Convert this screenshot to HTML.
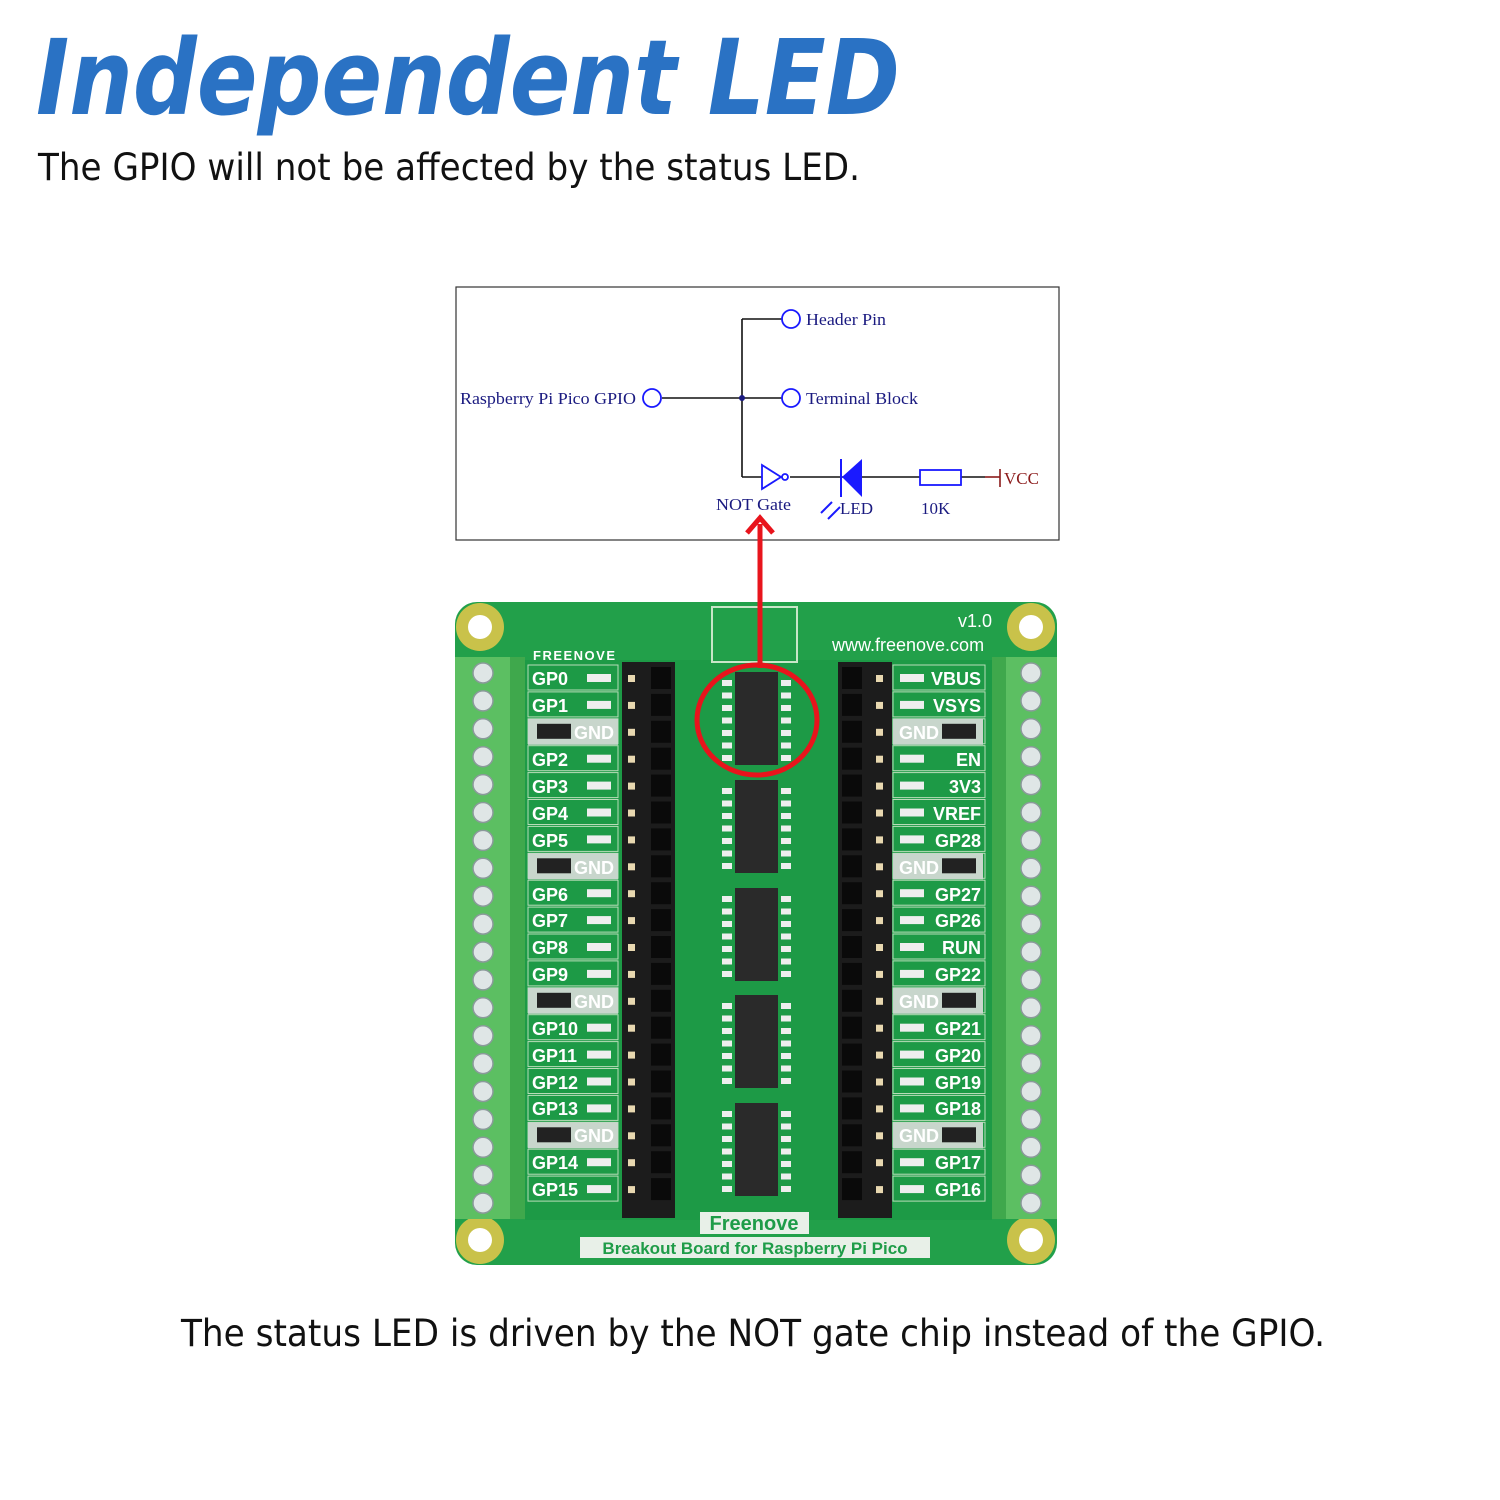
<!DOCTYPE html>
<html><head><meta charset="utf-8"><style>
html,body{margin:0;padding:0;background:#fff;width:1500px;height:1500px;overflow:hidden}
svg{display:block}
</style></head><body>
<svg id="s" width="1500" height="1500" viewBox="0 0 1500 1500" xmlns="http://www.w3.org/2000/svg">
<text x="36" y="114" font-family="DejaVu Sans, Liberation Sans, sans-serif" font-size="104" font-style="italic" font-weight="bold" fill="#2a72c4" textLength="864" lengthAdjust="spacingAndGlyphs">Independent LED</text>
<text x="38" y="180" font-family="DejaVu Sans, Liberation Sans, sans-serif" font-size="37" fill="#111" textLength="822" lengthAdjust="spacingAndGlyphs">The GPIO will not be affected by the status LED.</text>
<text x="181" y="1346" font-family="DejaVu Sans, Liberation Sans, sans-serif" font-size="37" fill="#111" textLength="1144" lengthAdjust="spacingAndGlyphs">The status LED is driven by the NOT gate chip instead of the GPIO.</text>

<!-- schematic -->
<rect x="456" y="287" width="603" height="253" fill="#fff" stroke="#333" stroke-width="1.2"/>
<g font-family="Liberation Serif, serif" font-size="17" fill="#1a1a80">
<text x="460" y="404" textLength="176" lengthAdjust="spacingAndGlyphs">Raspberry Pi Pico GPIO</text>
<text x="806" y="325" textLength="80" lengthAdjust="spacingAndGlyphs">Header Pin</text>
<text x="806" y="404" textLength="112" lengthAdjust="spacingAndGlyphs">Terminal Block</text>
<text x="716" y="510" textLength="75" lengthAdjust="spacingAndGlyphs">NOT Gate</text>
<text x="840" y="514">LED</text>
<text x="921" y="514">10K</text>
</g>
<text x="1004" y="484" font-family="Liberation Serif, serif" font-size="17" fill="#8b1a1a">VCC</text>
<g stroke="#111" stroke-width="1.6" fill="none">
<line x1="662" y1="398" x2="782" y2="398"/>
<line x1="742" y1="319" x2="782" y2="319"/>
<line x1="742" y1="319" x2="742" y2="477"/>
<line x1="742" y1="477" x2="762" y2="477"/>
<line x1="790" y1="477" x2="920" y2="477"/>
<line x1="961" y1="477" x2="985" y2="477"/>
</g>
<line x1="985" y1="477" x2="1000" y2="477" stroke="#8b1a1a" stroke-width="1.6"/>
<line x1="1000" y1="469" x2="1000" y2="487" stroke="#8b1a1a" stroke-width="1.6"/>
<circle cx="742" cy="398" r="3" fill="#1a1a80"/>
<g stroke="#1a1aff" stroke-width="1.8" fill="#fff">
<circle cx="652" cy="398" r="9"/>
<circle cx="791" cy="319" r="9"/>
<circle cx="791" cy="398" r="9"/>
<path d="M762 465 L781 477 L762 489 Z"/>
<circle cx="785" cy="477" r="3"/>
<rect x="920" y="470" width="41" height="15"/>
</g>
<path d="M862 459 L862 497 L842 477 Z" fill="#1a1aff"/>
<line x1="841" y1="459" x2="841" y2="497" stroke="#1a1aff" stroke-width="2"/>
<g stroke="#1a1aff" stroke-width="2"><line x1="832" y1="502" x2="821" y2="513"/><line x1="840" y1="507" x2="828" y2="519"/></g>

<!-- board -->
<rect x="455" y="602" width="602" height="663" rx="22" fill="#22a04a"/>
<rect x="525" y="660" width="467" height="560" fill="#1d9a46"/>
<g id="holes"></g>
<rect x="455" y="657" width="70" height="562" fill="#5cbf62"/>
<rect x="510" y="657" width="15" height="562" fill="#3fa84c"/>
<rect x="992" y="657" width="65" height="562" fill="#5cbf62"/>
<rect x="992" y="657" width="14" height="562" fill="#3fa84c"/>
<rect x="712" y="607" width="85" height="55" fill="none" stroke="#c8e6c8" stroke-width="2"/>
<g id="gen"></g>
<g font-family="Liberation Sans, sans-serif" font-weight="bold" fill="#fff" font-size="18">
<text x="533" y="660" font-size="13" letter-spacing="1.5">FREENOVE</text>
<text x="958" y="627" font-weight="normal" font-size="18">v1.0</text>
<text x="832" y="651" font-weight="normal" font-size="18">www.freenove.com</text>
</g>
<g font-family="Liberation Sans, sans-serif" font-weight="bold" fill="#fff" font-size="18">
<text x="532" y="685">GP0</text><text x="532" y="712">GP1</text><text x="574" y="739">GND</text><text x="532" y="766">GP2</text><text x="532" y="793">GP3</text><text x="532" y="820">GP4</text><text x="532" y="847">GP5</text><text x="574" y="874">GND</text><text x="532" y="901">GP6</text><text x="532" y="927">GP7</text><text x="532" y="954">GP8</text><text x="532" y="981">GP9</text><text x="574" y="1008">GND</text><text x="532" y="1035">GP10</text><text x="532" y="1062">GP11</text><text x="532" y="1089">GP12</text><text x="532" y="1115">GP13</text><text x="574" y="1142">GND</text><text x="532" y="1169">GP14</text><text x="532" y="1196">GP15</text>
</g>
<g font-family="Liberation Sans, sans-serif" font-weight="bold" fill="#fff" font-size="18" text-anchor="end">
<text x="981" y="685">VBUS</text><text x="981" y="712">VSYS</text><text x="939" y="739">GND</text><text x="981" y="766">EN</text><text x="981" y="793">3V3</text><text x="981" y="820">VREF</text><text x="981" y="847">GP28</text><text x="939" y="874">GND</text><text x="981" y="901">GP27</text><text x="981" y="927">GP26</text><text x="981" y="954">RUN</text><text x="981" y="981">GP22</text><text x="939" y="1008">GND</text><text x="981" y="1035">GP21</text><text x="981" y="1062">GP20</text><text x="981" y="1089">GP19</text><text x="981" y="1115">GP18</text><text x="939" y="1142">GND</text><text x="981" y="1169">GP17</text><text x="981" y="1196">GP16</text>
</g>
<rect x="700" y="1212" width="109" height="22" fill="#e8f0e8"/>
<rect x="580" y="1237" width="350" height="21" fill="#e8f0e8"/>
<g font-family="Liberation Sans, sans-serif" font-weight="bold" fill="#1e9c48">
<text x="754" y="1230" font-size="20" text-anchor="middle">Freenove</text>
<text x="755" y="1254" font-size="17" text-anchor="middle">Breakout Board for Raspberry Pi Pico</text>
</g>
<!-- red -->
<ellipse cx="757" cy="720" rx="60" ry="55" fill="none" stroke="#e8141c" stroke-width="5"/>
<line x1="760" y1="524" x2="760" y2="668" stroke="#e8141c" stroke-width="5"/>
<path d="M747 533 L760 518 L773 533" fill="none" stroke="#e8141c" stroke-width="5"/>
</svg>
<script>
var ns="http://www.w3.org/2000/svg",g=document.getElementById('gen'),h=document.getElementById('holes');
function el(p,t,a){var e=document.createElementNS(ns,t);for(var k in a)e.setAttribute(k,a[k]);p.appendChild(e);return e;}
[[480,627],[1031,627],[480,1240],[1031,1240]].forEach(function(c){el(h,'circle',{cx:c[0],cy:c[1],r:24,fill:'#c9c24a'});el(h,'circle',{cx:c[0],cy:c[1],r:12,fill:'#fff'});});
var S=26.9;
for(var i=0;i<20;i++){var y=673+i*27.9;
 el(g,'circle',{cx:483,cy:y,r:10,fill:'#dfe6e6',stroke:'#8a9a9a','stroke-width':1.5});
 el(g,'circle',{cx:1031,cy:y,r:10,fill:'#dfe6e6',stroke:'#8a9a9a','stroke-width':1.5});
}
for(var i=0;i<20;i++){var ly=665+i*S;
 el(g,'rect',{x:528,y:ly,width:90,height:25,fill:'none',stroke:'#b8dcb8','stroke-width':1});
 el(g,'rect',{x:893,y:ly,width:92,height:25,fill:'none',stroke:'#b8dcb8','stroke-width':1});
 if([2,7,12,17].indexOf(i)<0){
 el(g,'rect',{x:587,y:ly+9,width:24,height:8,fill:'#eee'});
 el(g,'rect',{x:900,y:ly+9,width:24,height:8,fill:'#eee'});}
}
[2,7,12,17].forEach(function(i){var ly=665+i*S;
 el(g,'rect',{x:528,y:ly,width:90,height:26,fill:'#c8d6cc'});
 el(g,'rect',{x:893,y:ly,width:90,height:26,fill:'#c8d6cc'});
 el(g,'rect',{x:537,y:ly+5,width:34,height:15,fill:'#222'});
 el(g,'rect',{x:942,y:ly+5,width:34,height:15,fill:'#222'});
});
el(g,'rect',{x:622,y:662,width:53,height:556,fill:'#1c1c1c'});
el(g,'rect',{x:838,y:662,width:54,height:556,fill:'#1c1c1c'});
for(var i=0;i<20;i++){var y=667+i*S;
 el(g,'rect',{x:651,y:y,width:20,height:22,fill:'#0a0a0a'});
 el(g,'rect',{x:842,y:y,width:20,height:22,fill:'#0a0a0a'});
 el(g,'rect',{x:628,y:y+8,width:7,height:7,fill:'#e8d8b0'});
 el(g,'rect',{x:876,y:y+8,width:7,height:7,fill:'#e8d8b0'});
}
[672,780,888,995,1103].forEach(function(y){
 el(g,'rect',{x:735,y:y,width:43,height:93,fill:'#2a2a2a'});
 for(var k=0;k<7;k++){var py=y+8+k*12.5;
  el(g,'rect',{x:722,y:py,width:10,height:6,fill:'#eee'});
  el(g,'rect',{x:781,y:py,width:10,height:6,fill:'#eee'});}
});
</script>
</body></html>
